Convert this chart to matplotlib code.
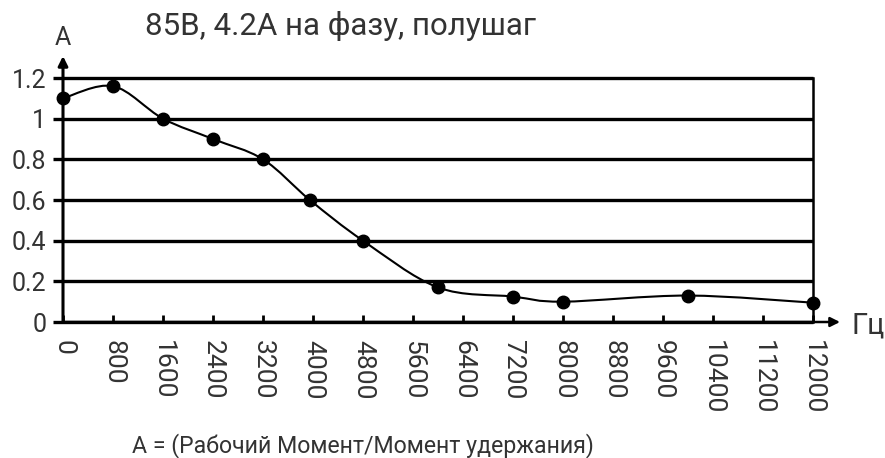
import matplotlib.pyplot as plt
from matplotlib.path import Path
from matplotlib.patches import PathPatch

plt.rcParams["font.family"] = ["Roboto", "DejaVu Sans"]

# Data
freq = [0, 800, 1600, 2400, 3200, 3950, 4800, 6000, 7200, 8000, 10000, 12000]
ratio = [1.10, 1.16, 1.00, 0.90, 0.80, 0.60, 0.40, 0.17, 0.125, 0.10, 0.13, 0.095]
x_ticks = list(range(0, 12001, 800))
y_ticks = [0, 0.2, 0.4, 0.6, 0.8, 1, 1.2]
y_labels = ["0", "0.2", "0.4", "0.6", "0.8", "1", "1.2"]

title = "85В, 4.2А на фазу, полушаг"
y_name = "А"
x_name = "Гц"
note = "А = (Рабочий Момент/Момент удержания)"

text_color = "#333333"

fig = plt.figure(figsize=(8.85, 4.58), dpi=100)
ax = fig.add_axes([63 / 885, 136 / 458, 750 / 885, 244 / 458])

ax.set_xlim(0, 12000)
ax.set_ylim(0, 1.2)

# horizontal grid lines, extending slightly left of the y axis
for yv in y_ticks:
    ax.plot([-160, 12000], [yv, yv], color="black", lw=2.4, clip_on=False,
            solid_capstyle="butt", zorder=1)

# smooth curve (Catmull-Rom through the points, drawn as bezier path)
pts = list(zip(freq, ratio))
ext = [pts[0]] + pts + [pts[-1]]
verts = [pts[0]]
codes = [Path.MOVETO]
for i in range(1, len(ext) - 2):
    p0, p1, p2, p3 = ext[i - 1], ext[i], ext[i + 1], ext[i + 2]
    c1 = (p1[0] + (p2[0] - p0[0]) / 6, p1[1] + (p2[1] - p0[1]) / 6)
    c2 = (p2[0] - (p3[0] - p1[0]) / 6, p2[1] - (p3[1] - p1[1]) / 6)
    verts += [c1, c2, p2]
    codes += [Path.CURVE4] * 3
ax.add_patch(PathPatch(Path(verts, codes), fill=False, lw=1.5, color="black",
                       zorder=3, clip_on=False))

ax.plot(freq, ratio, "o", color="black", ms=9, zorder=4, clip_on=False)

# axes
for s in ["top", "left", "bottom"]:
    ax.spines[s].set_visible(False)
ax.spines["right"].set_linewidth(1.8)
ax.spines["right"].set_color("black")
ax.annotate("", xy=(1.036, 0), xytext=(0, 0), xycoords="axes fraction",
            arrowprops=dict(arrowstyle="-|>", lw=1.8, color="black",
                            mutation_scale=14, shrinkA=0, shrinkB=0))
ax.annotate("", xy=(0, 1.09), xytext=(0, 0), xycoords="axes fraction",
            arrowprops=dict(arrowstyle="-|>", lw=2.2, color="black",
                            mutation_scale=14, shrinkA=0, shrinkB=0))

ax.set_xticks(x_ticks)
ax.set_xticklabels([str(v) for v in x_ticks], rotation=-90, fontsize=19,
                   color=text_color, va="top", ha="center")
ax.tick_params(axis="x", direction="in", length=5, width=2, color="black", pad=13)
ax.set_yticks(y_ticks)
ax.set_yticklabels(y_labels, fontsize=18, color=text_color)
ax.tick_params(axis="y", length=0, pad=12)

fig.text(63 / 885, 1 - 45 / 458, y_name, fontsize=18, color=text_color,
         ha="center", va="baseline")
fig.text(145 / 885, 1 - 35 / 458, title, fontsize=22.5, color=text_color,
         ha="left", va="baseline")
fig.text(851 / 885, 1 - 333 / 458, x_name, fontsize=21, color=text_color,
         ha="left", va="baseline")
fig.text(363 / 885, 1 - 452 / 458, note, fontsize=16.7, color=text_color,
         ha="center", va="baseline")

fig.savefig("out.png", dpi=100)
